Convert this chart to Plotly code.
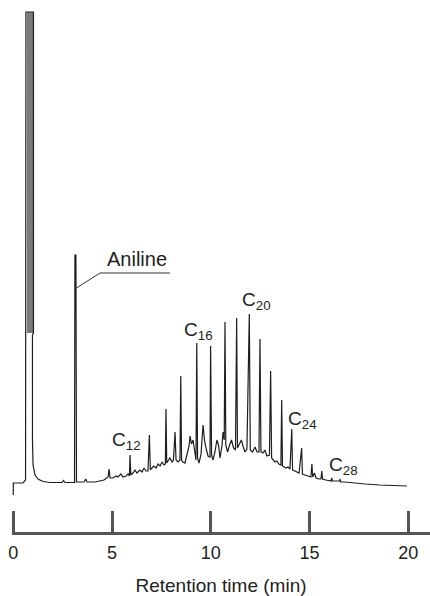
import plotly.graph_objects as go

# Chromatogram trace: retention time (min) and detector response (arb. units)
time_min = [0.00, 0.00, 0.49, 0.62, 0.64, 1.02, 1.02, 0.97, 0.97, 1.00, 1.10, 1.25, 1.50, 1.86,
            2.47, 2.54, 2.62, 3.10, 3.12, 3.17, 3.20, 3.38, 3.58, 3.67, 3.73, 4.14, 4.39, 4.59,
            4.69, 4.80, 4.85, 4.90, 5.05, 5.20, 5.30, 5.45, 5.55, 5.71, 5.81, 5.88, 5.91, 5.95,
            6.06, 6.16, 6.26, 6.41, 6.52, 6.62, 6.72, 6.82, 6.89, 6.94, 7.02, 7.12, 7.23, 7.33,
            7.43, 7.53, 7.63, 7.70, 7.73, 7.77, 7.83, 7.93, 8.04, 8.11, 8.19, 8.24, 8.34, 8.44,
            8.48, 8.52, 8.59, 8.69, 8.79, 8.90, 8.95, 9.02, 9.10, 9.17, 9.25, 9.29, 9.33, 9.40,
            9.50, 9.61, 9.68, 9.78, 9.86, 9.96, 9.99, 10.04, 10.11, 10.21, 10.31, 10.39, 10.47,
            10.57, 10.62, 10.68, 10.72, 10.76, 10.85, 10.95, 11.05, 11.15, 11.25, 11.31, 11.35,
            11.45, 11.55, 11.63, 11.73, 11.83, 11.95, 12.00, 12.11, 12.24, 12.34, 12.44, 12.49,
            12.54, 12.64, 12.74, 12.84, 12.97, 13.03, 13.08, 13.15, 13.25, 13.35, 13.45, 13.55,
            13.59, 13.63, 13.71, 13.81, 13.91, 14.01, 14.10, 14.14, 14.26, 14.36, 14.47, 14.60,
            14.64, 14.77, 14.92, 15.07, 15.12, 15.16, 15.25, 15.33, 15.48, 15.58, 15.62, 15.66,
            15.83, 15.98, 16.09, 16.12, 16.16, 16.34, 16.52, 16.54, 16.58, 16.79, 17.20, 17.81,
            18.56, 19.33, 19.93]
response = [-2.0, 0.4, 0.4, 1.0, 94.6, 94.6, 30.4, 30.0, 9.0, 4.0, 2.0, 1.2, 0.7, 0.5,
            0.5, 0.9, 0.5, 0.5, 46.0, 46.0, 0.6, 0.6, 0.6, 1.2, 0.6, 0.6, 0.8, 1.0,
            1.3, 1.6, 3.2, 1.4, 1.4, 1.8, 1.6, 2.2, 1.6, 1.8, 2.2, 1.8, 6.0, 2.0,
            2.4, 3.0, 2.4, 3.0, 2.6, 3.4, 2.8, 2.8, 10.0, 3.0, 3.4, 3.8, 3.4, 4.2,
            3.8, 4.6, 4.0, 4.2, 15.2, 4.4, 4.8, 5.4, 4.6, 5.0, 10.6, 5.0, 4.6, 5.0,
            21.8, 5.0, 4.6, 4.4, 6.0, 7.8, 9.8, 8.2, 9.0, 6.6, 5.0, 28.4, 5.4, 4.4,
            6.0, 12.0, 9.0, 7.0, 5.8, 5.6, 27.8, 6.0, 5.0, 6.6, 9.0, 8.0, 5.4,
            8.0, 10.6, 9.0, 32.6, 8.0, 6.6, 8.0, 9.0, 7.4, 7.0, 33.4, 7.4,
            8.2, 9.0, 7.8, 6.6, 7.2, 34.2, 7.0, 6.6, 7.6, 6.6, 6.6, 29.2,
            6.6, 6.4, 7.0, 5.8, 6.0, 22.8, 5.4, 5.0, 4.6, 4.8, 4.2, 4.0,
            17.0, 3.8, 3.6, 3.4, 3.6, 3.2, 11.2, 3.0, 2.8, 2.6, 2.4, 7.4,
            2.2, 2.0, 1.8, 1.6, 4.2, 1.6, 2.4, 1.4, 1.2, 1.2, 2.8, 1.2,
            1.0, 0.8, 0.8, 1.4, 0.8, 0.8, 0.8, 1.2, 0.6, 0.6, 0.4, 0.2,
            0.0, -0.1, -0.2]

# Saturated (flat-topped) solvent peak, shaded area
solvent_fill_t = [0.69, 1.00, 1.00, 0.69]
solvent_fill_r = [94.6, 94.6, 30.4, 30.4]

# Aniline label leader line
aniline_leader_t = [3.20, 4.39, 7.93]
aniline_leader_r = [39.4, 42.4, 42.4]

# n-alkane peak labels
label_text = ["C<sub>12</sub>", "C<sub>16</sub>", "C<sub>20</sub>", "C<sub>24</sub>", "C<sub>28</sub>"]
label_t = [4.90, 8.54, 11.48, 13.81, 15.88]
label_r = [8.8, 30.8, 36.8, 13.0, 3.8]

tick_vals = [0, 5, 10, 15, 20]
tick_text = ["0", "5", "10", "15", "20"]

FONT = "Liberation Sans, Arial, Helvetica, sans-serif"

fig = go.Figure()
fig.add_trace(go.Scatter(x=solvent_fill_t, y=solvent_fill_r, fill="toself", mode="lines",
                         line=dict(width=0), fillcolor="#7a7a7a", hoverinfo="skip"))
fig.add_trace(go.Scatter(x=time_min, y=response, mode="lines",
                         line=dict(color="#1e1e1e", width=1.2)))
fig.add_trace(go.Scatter(x=aniline_leader_t, y=aniline_leader_r, mode="lines",
                         line=dict(color="#333333", width=1)))

fig.add_annotation(x=4.64, y=45.2, text="Aniline", showarrow=False, xanchor="left",
                   yanchor="middle", font=dict(family=FONT, size=20, color="#222"))
for txt, t, r in zip(label_text, label_t, label_r):
    fig.add_annotation(x=t, y=r, text=txt, showarrow=False, xanchor="left", yanchor="middle",
                       font=dict(family=FONT, size=19, color="#222"))

fig.update_layout(
    width=430, height=596, showlegend=False,
    margin=dict(l=12, r=0, t=0, b=64, autoexpand=False),
    paper_bgcolor="white", plot_bgcolor="white",
    xaxis=dict(range=[-0.066, 21.10], tickvals=tick_vals, ticktext=tick_text,
               ticks="inside", ticklen=21, tickwidth=3, tickcolor="#555", automargin=False,
               showline=True, linewidth=3, linecolor="#555", showgrid=False, zeroline=False,
               ticklabelstandoff=2,
               tickfont=dict(family=FONT, size=18, color="#222"),
               title=dict(text="Retention time (min)", font=dict(family=FONT, size=19, color="#222"),
                          standoff=24)),
    yaxis=dict(range=[-9.4, 97], visible=False, showgrid=False, zeroline=False, automargin=False),
)

fig.write_html("out.html", config={"displayModeBar": False},
               post_script="document.body.style.margin='0';")
